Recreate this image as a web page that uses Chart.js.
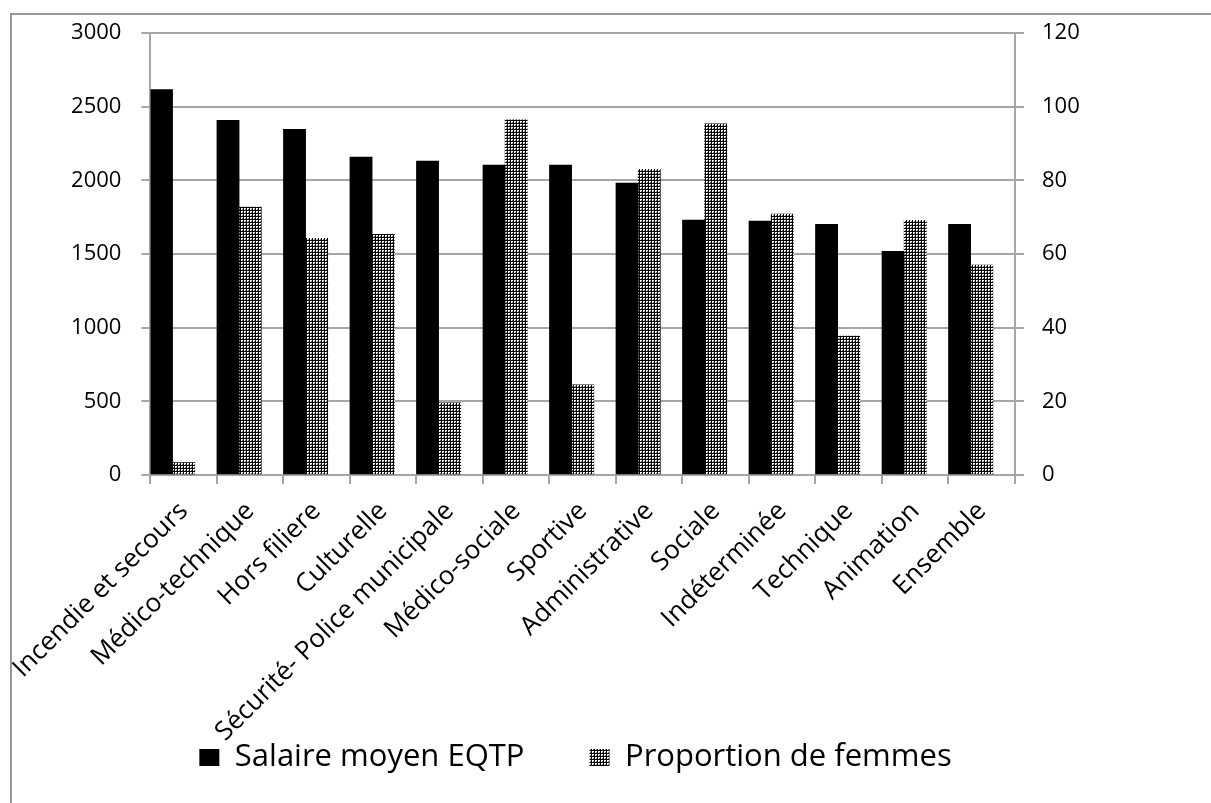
<!DOCTYPE html>
<html lang="fr">
<head>
<meta charset="utf-8">
<title>Salaire moyen et proportion de femmes par filière</title>
<script src="https://cdn.jsdelivr.net/npm/chart.js@4.4.1/dist/chart.umd.min.js"></script>
<style>
  html, body { margin:0; padding:0; background:#fff; }
  body { width:1211px; height:803px; position:relative; overflow:hidden; }
  .frame { position:absolute; left:10px; top:13px; right:-10px; bottom:-10px;
           border-left:2px solid #999; border-top:2px solid #999; }
  #chart { position:absolute; left:0; top:0; }
</style>
</head>
<body>
<div class="frame"></div>
<canvas id="chart" width="1211" height="803"></canvas>
<script>
// Salaire moyen EQTP / proportion de femmes, par filière
const categories = ['Incendie et secours','Médico-technique','Hors filiere','Culturelle','Sécurité- Police municipale',
  'Médico-sociale','Sportive','Administrative','Sociale','Indéterminée','Technique','Animation','Ensemble'];
const salaire = [2617, 2409, 2348, 2158, 2131, 2104, 2104, 1982, 1731, 1724, 1702, 1519, 1702];
const femmes = [3.4, 72.8, 64.3, 65.4, 19.6, 96.5, 24.5, 83.0, 95.4, 70.9, 37.7, 69.2, 57.0];
const seriesNames = ['Salaire moyen EQTP', 'Proportion de femmes'];
const leftTicks = [0, 3000, 500];
const rightTicks = [0, 120, 20];

const GRID = '#a6a6a6';
const FONT = 'Open Sans, Noto Sans, sans-serif';

Chart.defaults.font.family = FONT;
Chart.defaults.color = '#000';
Chart.defaults.animation = false;

// small checker/grid fill, like the office "dotted grid" pattern
function checker(){
  const c = document.createElement('canvas');
  c.width = 3; c.height = 3;
  const g = c.getContext('2d');
  g.fillStyle = '#fff'; g.fillRect(0,0,3,3);
  g.fillStyle = '#000';
  g.fillRect(0,0,3,1);
  g.fillRect(0,0,1,3);
  g.fillStyle = '#777';
  g.fillRect(2,2,1,1);
  return g.createPattern(c, 'repeat');
}

const fixW = (w) => (s) => { s.width = w; };
const fixH = (h) => (s) => { s.height = h; };

// category labels hang down past the legend line: let them draw to the canvas bottom
const longLabels = {
  id:'longLabels',
  afterLayout(chart){ chart.scales.x.bottom = chart.height; }
};

const ctx = document.getElementById('chart').getContext('2d');
new Chart(ctx, {
  type:'bar',
  data:{
    labels: categories,
    datasets:[
      { label: seriesNames[0], data: salaire, yAxisID:'y',
        backgroundColor:'#000', borderWidth:0 },
      { label: seriesNames[1], data: femmes, yAxisID:'y1',
        backgroundColor: checker(), borderWidth:0 },
      // empty slot so bars sit on the left two thirds of each category
      { label: '', data: categories.map(() => null), yAxisID:'y1',
        backgroundColor:'rgba(0,0,0,0)', borderWidth:0 },
    ]
  },
  plugins:[longLabels],
  options:{
    responsive:false,
    devicePixelRatio:1,
    categoryPercentage:1,
    barPercentage:1,
    layout:{ padding:{ top:32, left:0, right:60, bottom:20 } },
    plugins:{
      tooltip:{ enabled:false },
      legend:{
        position:'bottom',
        labels:{
          filter:(item) => item.text !== '',
          boxWidth:20, boxHeight:17, padding:65,
          font:{ size:31, family:FONT }, color:'#000'
        }
      }
    },
    scales:{
      x:{
        afterFit: fixH(202),
        grid:{ offset:true, drawOnChartArea:false, color:GRID, lineWidth:2, tickLength:9 },
        border:{ color:GRID, width:2 },
        ticks:{ minRotation:45, maxRotation:45, autoSkip:false, padding:12,
          font:{ size:26 }, color:'#000' }
      },
      y:{
        position:'left',
        min:leftTicks[0], max:leftTicks[1],
        afterFit: fixW(149),
        grid:{ color:GRID, lineWidth:2, tickLength:9 },
        border:{ color:GRID, width:2 },
        ticks:{ stepSize:leftTicks[2], padding:20, font:{ size:22 }, color:'#000',
          callback:(v) => String(v) }
      },
      y1:{
        position:'right',
        min:rightTicks[0], max:rightTicks[1],
        afterFit: fixW(136),
        grid:{ drawOnChartArea:false, color:GRID, lineWidth:2, tickLength:9 },
        border:{ color:GRID, width:2 },
        ticks:{ stepSize:rightTicks[2], padding:18, font:{ size:22 }, color:'#000',
          callback:(v) => String(v) }
      }
    }
  }
});
</script>
</body>
</html>
